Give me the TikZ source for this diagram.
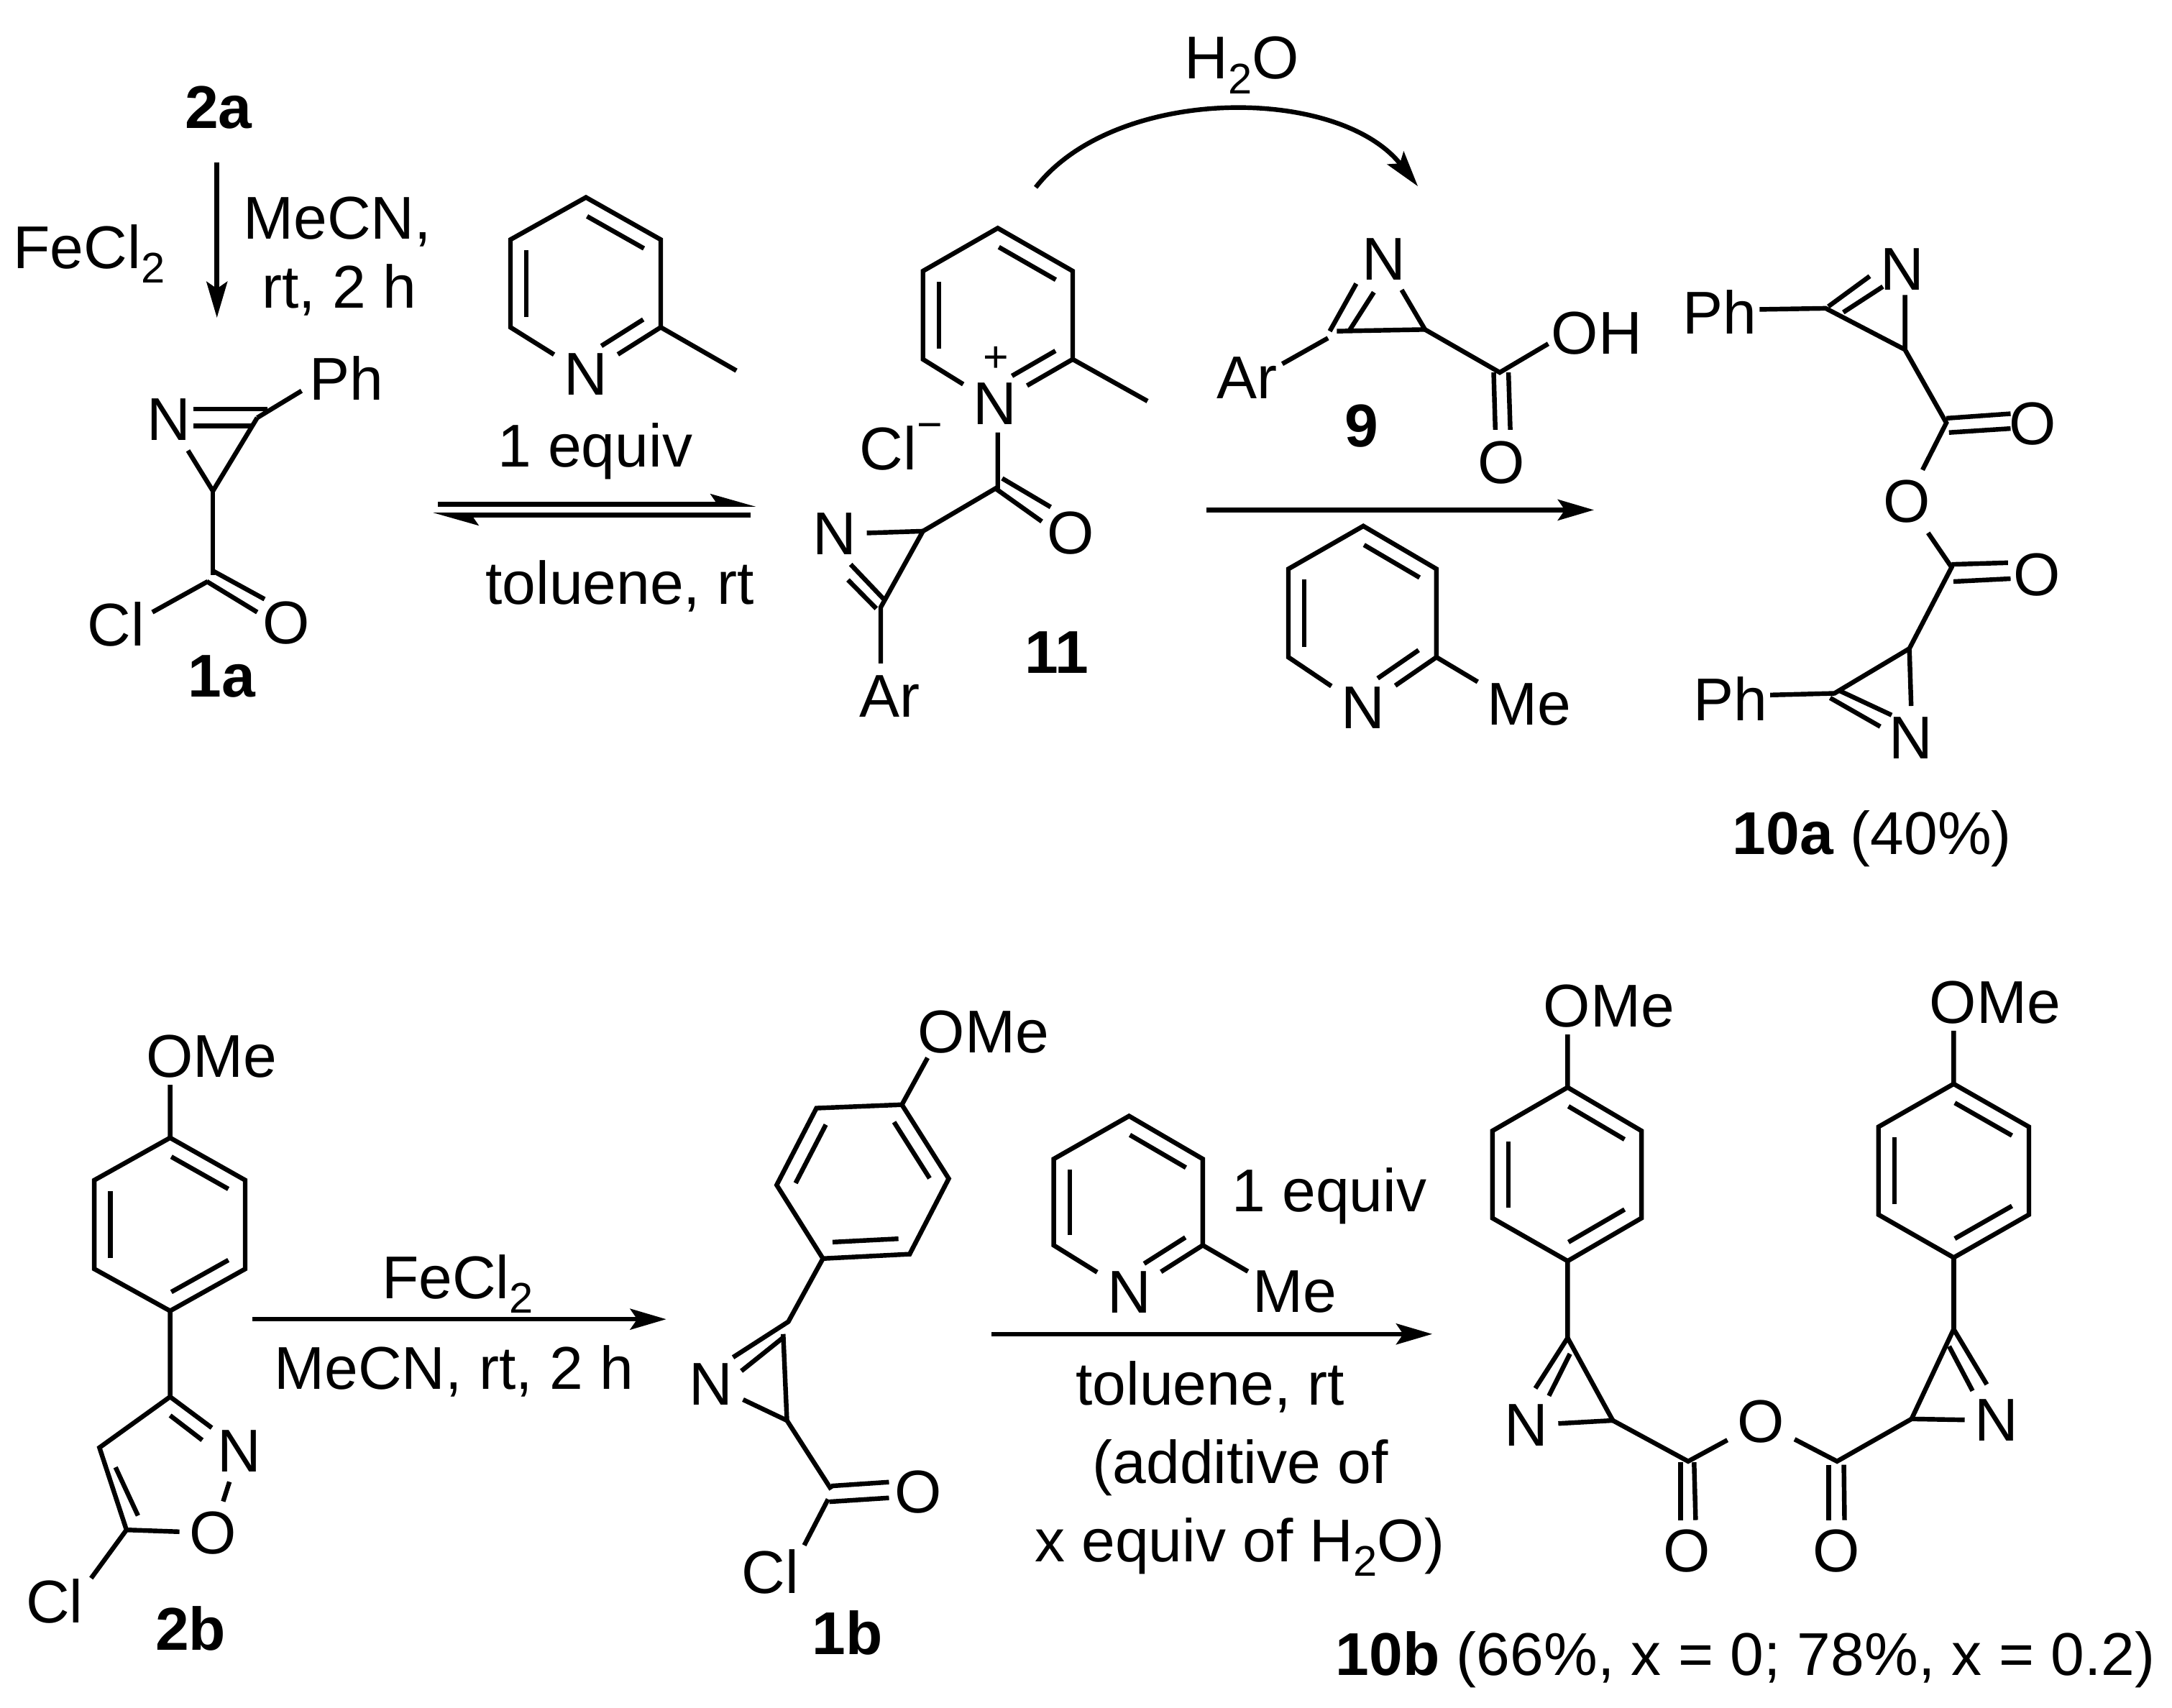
\documentclass[tikz,border=0pt]{standalone}
\usepackage{fontspec}
\setmainfont{Liberation Sans}
\usetikzlibrary{arrows.meta,calc}
\newcommand{\lowidx}[1]{\raisebox{-.24em}{\fontsize{8.8}{10}\selectfont #1}}
\newcommand{\innerbond}[3][.88]{\draw ($(#2)!.12!(#3)!.115cm!-90:(#3)$) -- ($(#2)!#1!(#3)!.115cm!-90:(#3)$);}
\begin{document}
\begin{tikzpicture}[
x=.01cm,y=-.01cm,
font=\fontsize{12.4}{15}\selectfont,
line width=.95pt,
atom/.style={inner sep=1.6pt},
txt/.style={anchor=base,inner sep=0pt},
txtl/.style={anchor=base west,inner sep=0pt},
cmpd/.style={inner sep=0pt,font=\fontsize{12.4}{15}\selectfont\bfseries},
rxn/.style={-{Stealth[length=.26cm,width=.15cm,inset=.05cm]}},
eqm/.style={-{Stealth[harpoon,length=.27cm,width=.15cm,inset=.05cm]}}]
    \useasboundingbox (0,0) rectangle (1568,1233.2);

    % 2a to 1a
    \node[cmpd] (l2a) at (157.7,77.5) {2a};
    \node[txtl] (fecla) at (8,193.9) {FeCl\lowidx{2}};
    \node[txt] (mecna) at (243.5,172.7) {MeCN,};
    \node[txt] (rta) at (244.7,222.4) {rt, 2 h};
    \draw (156.6,117.1) coordinate (s1) (156.6,229.4) coordinate (e1);
    \draw[rxn] (s1) -- (e1);

    \node[atom] (aN) at (122,303) {N};
    \node[atom] (aPh) at (250,272.8) {Ph};
    \node[atom] (aCl) at (83.7,450.7) {Cl};
    \node[atom] (aO) at (206.8,450) {O};
    \node[cmpd] (l1a) at (160,488.5) {1a};
    \draw
    (185.7,301.6) coordinate (a2) (217.7,282.2) coordinate (aP)
    (139.5,295.4) coordinate (ad1) (193,295.4) coordinate (ad2)
    (139.5,307.5) coordinate (ad3) (182,307.5) coordinate (ad4)
    (153.7,354.5) coordinate (a3) (153.7,415.3) coordinate (aC)
    (150,419.8) coordinate (aC1) (110,442) coordinate (aCe)
    (153,411.8) coordinate (ao1) (191,432.6) coordinate (ao2)
    (149.3,419.8) coordinate (ao3) (185.7,442) coordinate (ao4);
    \draw (a2) -- (aP);
    \draw (ad1) -- (ad2);
    \draw (ad3) -- (ad4);
    \draw (a3) -- (a2);
    \draw (a3) -- (aN);
    \draw (a3) -- (aC);
    \draw (aC1) -- (aCe);
    \draw (ao1) -- (ao2);
    \draw (ao3) -- (ao4);

    % picoline, top left
    \node[atom] (pN) at (423,270.4) {N};
    \draw
    (423,142.5) coordinate (p1) (477,173) coordinate (p2)
    (477,236.3) coordinate (p3) (368.5,236.3) coordinate (p5)
    (368.5,173) coordinate (p6) (531.6,267.6) coordinate (pm);
    \draw (pN) -- (p3) -- (p2) -- (p1) -- (p6) -- (p5) -- (pN);
    \draw (p3) -- (pm);
    \innerbond{p1}{p2}
    \innerbond{p5}{p6}
    \innerbond[.68]{p3}{pN}
    \node[txt] (eqa) at (429.6,337) {1 equiv};
    \node[txt] (tola) at (447.5,436) {toluene, rt};
    \draw
    (316,364.2) coordinate (q1) (546,364.2) coordinate (q2)
    (541.8,371.8) coordinate (q3) (312.4,371.8) coordinate (q4);
    \draw[eqm] (q1) -- (q2);
    \draw[eqm] (q3) -- (q4);

    % 11
    \node[atom] (bN) at (718.4,291.7) {N};
    \node[inner sep=0pt,font=\fontsize{9}{10}\selectfont] (bplus) at (719,259.4) {+};
    \node[txtl] (bCl) at (619,339.2) {Cl\raisebox{.5em}{\fontsize{9}{10}\selectfont −}};
    \node[atom] (bO) at (773.1,384.7) {O};
    \node[atom] (bN2) at (602.7,385.6) {N};
    \node[atom] (bAr) at (642.1,502.6) {Ar};
    \node[cmpd] (l11) at (763,471) {11};
    \draw
    (720.3,164.7) coordinate (b1) (774.4,195.7) coordinate (b2)
    (774.4,259.4) coordinate (b3) (666.3,259.4) coordinate (b5)
    (666.3,195.7) coordinate (b6) (828.4,289.6) coordinate (bm)
    (720.3,312.3) coordinate (bn) (720.3,351.7) coordinate (bC)
    (723.5,345.4) coordinate (bo1) (758.5,366.1) coordinate (bo2)
    (718.4,352.5) coordinate (bo3) (752.1,376.5) coordinate (bo4)
    (666.3,383.5) coordinate (b7) (635.8,438.5) coordinate (b8)
    (635.8,479) coordinate (be)
    (614.1,407.5) coordinate (bd1) (637.7,432.3) coordinate (bd2)
    (612.2,418.7) coordinate (bd3) (632.6,439.4) coordinate (bd4);
    \draw (bN) -- (b3) -- (b2) -- (b1) -- (b6) -- (b5) -- (bN);
    \draw (b3) -- (bm);
    \innerbond{b1}{b2}
    \innerbond{b5}{b6}
    \innerbond[.68]{b3}{bN}
    \draw (bn) -- (bC) -- (b7) -- (b8) -- (be);
    \draw (b7) -- (bN2);
    \draw (bo1) -- (bo2);
    \draw (bo3) -- (bo4);
    \draw (bd1) -- (bd2);
    \draw (bd3) -- (bd4);

    % water arc
    \node[txt] (wat) at (896.4,57) {H\lowidx{2}O};
    \draw (747.7,135.3) coordinate (w1) (1023.6,134.5) coordinate (w2);
    \draw[rxn] (w1) .. controls (805,61.4) and (966,61.4) .. (w2);

    % 9
    \node[atom] (cN) at (998.8,187) {N};
    \node[atom] (cAr) at (900.2,273) {Ar};
    \node[atom] (cOH) at (1152.7,240.8) {OH};
    \node[atom] (cO) at (1084,333.9) {O};
    \node[cmpd] (l9) at (983,307.5) {9};
    \draw
    (965.1,239.1) coordinate (c1) (1028.7,237.9) coordinate (c2)
    (1082.7,268.9) coordinate (c3)
    (979.1,204.8) coordinate (cd1) (960,239.1) coordinate (cd2)
    (991.8,211) coordinate (cd3) (974.6,237.9) coordinate (cd4)
    (958.7,244.1) coordinate (ca1) (925.7,262.7) coordinate (ca2)
    (1117.7,248.2) coordinate (ch)
    (1078.3,268.9) coordinate (co1) (1079.5,310.3) coordinate (co2)
    (1089,268.9) coordinate (co3) (1090.3,310.3) coordinate (co4);
    \draw (c1) -- (c2) -- (cN);
    \draw (c2) -- (c3) -- (ch);
    \draw (cd1) -- (cd2);
    \draw (cd3) -- (cd4);
    \draw (ca1) -- (ca2);
    \draw (co1) -- (co2);
    \draw (co3) -- (co4);

    % 11 to 10a, with Me-pyridine
    \draw (871,368.2) coordinate (s2) (1150.7,368.2) coordinate (e2);
    \draw[rxn] (s2) -- (e2);
    \node[atom] (dN) at (984.2,510.9) {N};
    \node[atom] (dMe) at (1103.7,508.5) {Me};
    \draw
    (984.2,379.8) coordinate (d1) (1037,410.8) coordinate (d2)
    (1037,474.5) coordinate (d3) (930.1,474.5) coordinate (d5)
    (930.1,410.8) coordinate (d6) (1066.8,492.3) coordinate (dm);
    \draw (dN) -- (d3) -- (d2) -- (d1) -- (d6) -- (d5) -- (dN);
    \draw (d3) -- (dm);
    \innerbond{d1}{d2}
    \innerbond{d5}{d6}
    \innerbond[.68]{d3}{dN}

    % 10a
    \node[atom] (eN) at (1373.3,194.4) {N};
    \node[atom] (ePh) at (1241.6,225.5) {Ph};
    \node[atom] (eO) at (1467.4,306.1) {O};
    \node[atom] (eOb) at (1376.4,362) {O};
    \node[atom] (eO2) at (1470.5,414.9) {O};
    \node[atom] (eN2) at (1379.7,532.8) {N};
    \node[atom] (ePh2) at (1249.3,504.7) {Ph};
    \node[txt] (l10a) at (1351.5,617) {\textbf{10a} (40\%)};
    \draw
    (1318,222.6) coordinate (e1) (1270.3,223.4) coordinate (ep)
    (1319.9,221.3) coordinate (ed1) (1349.8,199.4) coordinate (ed2)
    (1330.7,225.5) coordinate (ed3) (1359.3,206.9) coordinate (ed4)
    (1375.2,252.4) coordinate (e2) (1375.2,213) coordinate (en)
    (1405.1,305.3) coordinate (e3)
    (1405.1,302) coordinate (eo1) (1451.5,298.7) coordinate (eo2)
    (1407,312.3) coordinate (eo3) (1451.5,309.4) coordinate (eo4)
    (1408.9,409.6) coordinate (e4)
    (1408.9,407.5) coordinate (eo5) (1449.6,406.3) coordinate (eo6)
    (1410.2,419.9) coordinate (eo7) (1451.5,417.8) coordinate (eo8)
    (1378.4,468.3) coordinate (e5) (1379.7,509.7) coordinate (en2)
    (1324.3,500.6) coordinate (e6) (1277.9,501.8) coordinate (ep2)
    (1327.5,498.5) coordinate (ed5) (1365.6,516.3) coordinate (ed6)
    (1321.2,503.9) coordinate (ed7) (1357.4,524.6) coordinate (ed8);
    \draw (ep) -- (e1) -- (e2) -- (en);
    \draw (ed1) -- (ed2);
    \draw (ed3) -- (ed4);
    \draw (e2) -- (e3) -- (eOb) -- (e4) -- (e5) -- (en2);
    \draw (eo1) -- (eo2);
    \draw (eo3) -- (eo4);
    \draw (eo5) -- (eo6);
    \draw (eo7) -- (eo8);
    \draw (e5) -- (e6) -- (ep2);
    \draw (ed5) -- (ed6);
    \draw (ed7) -- (ed8);

    % 2b
    \node[atom] (fOMe) at (152.9,763) {OMe};
    \node[atom] (fN) at (172.8,1047.6) {N};
    \node[atom] (fO) at (153.8,1106.8) {O};
    \node[atom] (fCl) at (39.4,1156.3) {Cl};
    \node[cmpd] (l2b) at (137.6,1176) {2b};
    \draw
    (122.8,783.3) coordinate (fm)
    (122.8,821.5) coordinate (f1) (177,852.1) coordinate (f2)
    (177,916.2) coordinate (f3) (122.8,946.5) coordinate (f4)
    (68.1,916.2) coordinate (f5) (68.1,852.1) coordinate (f6)
    (122.8,1008.5) coordinate (f7) (71.8,1045.2) coordinate (f8)
    (91.3,1104.6) coordinate (f9)
    (152.9,1030.9) coordinate (fn1)
    (122.8,1022) coordinate (fn2) (146,1039.8) coordinate (fn3)
    (83.4,1059.4) coordinate (fc1) (99.6,1094.3) coordinate (fc2)
    (65.8,1139.5) coordinate (fe);
    \draw (fm) -- (f1) -- (f2) -- (f3) -- (f4) -- (f5) -- (f6) -- (f1);
    \innerbond{f1}{f2}
    \innerbond{f3}{f4}
    \innerbond{f5}{f6}
    \draw (f4) -- (f7) -- (f8) -- (f9) -- (fO) -- (fN);
    \draw (f7) -- (fn1);
    \draw (fn2) -- (fn3);
    \draw (fc1) -- (fc2);
    \draw (f9) -- (fe);

    % 2b to 1b
    \draw (182.1,952.5) coordinate (s3) (481,952.5) coordinate (e3a);
    \draw[rxn] (s3) -- (e3a);
    \node[txtl] (feclb) at (274,937.5) {FeCl\lowidx{2}};
    \node[txt] (mecnb) at (327.6,1003.1) {MeCN, rt, 2 h};

    % 1b
    \node[atom] (gOMe) at (710,745.2) {OMe};
    \node[atom] (gN) at (513.4,999.6) {N};
    \node[atom] (gO) at (662.7,1077.2) {O};
    \node[atom] (gCl) at (556.1,1134.9) {Cl};
    \node[cmpd] (l1b) at (611.7,1178.7) {1b};
    \draw
    (669.6,763.8) coordinate (gm)
    (651.1,797.6) coordinate (g1) (684.9,851) coordinate (g2)
    (656.7,905.5) coordinate (g3) (594.1,908.7) coordinate (g4)
    (560.7,855.6) coordinate (g5) (589.4,800.1) coordinate (g6)
    (569.1,954.3) coordinate (g7) (529.2,980) coordinate (gd1)
    (566.3,965) coordinate (gd2) (535.2,989.9) coordinate (gd3)
    (565.4,963.2) coordinate (gr) (568.1,1025.6) coordinate (g8)
    (600.1,1075.4) coordinate (g9)
    (600.1,1072.9) coordinate (go1) (641.8,1070.1) coordinate (go2)
    (598.7,1084.3) coordinate (go3) (641.8,1081.5) coordinate (go4)
    (597.8,1082.5) coordinate (gc1) (580.6,1115.7) coordinate (gc2);
    \draw (gm) -- (g1) -- (g2) -- (g3) -- (g4) -- (g5) -- (g6) -- (g1);
    \innerbond{g1}{g2}
    \innerbond{g3}{g4}
    \innerbond{g5}{g6}
    \draw (g4) -- (g7) -- (gd1);
    \draw (gd2) -- (gd3);
    \draw (gr) -- (g8) -- (gN);
    \draw (g8) -- (g9);
    \draw (go1) -- (go2);
    \draw (go3) -- (go4);
    \draw (gc1) -- (gc2);

    % 1b to 10b
    \draw (716,963.2) coordinate (s4) (1034,963.2) coordinate (e4a);
    \draw[rxn] (s4) -- (e4a);
    \node[atom] (hN) at (815.1,932.9) {N};
    \node[atom] (hMe) at (934.6,932.9) {Me};
    \draw
    (815.1,805.8) coordinate (h1) (868.3,836.8) coordinate (h2)
    (868.3,899.1) coordinate (h3) (760.7,899.1) coordinate (h5)
    (760.7,836.8) coordinate (h6) (900.9,918) coordinate (hm);
    \draw (hN) -- (h3) -- (h2) -- (h1) -- (h6) -- (h5) -- (hN);
    \draw (h3) -- (hm);
    \innerbond{h1}{h2}
    \innerbond{h5}{h6}
    \innerbond[.68]{h3}{hN}
    \node[txt] (eqb) at (959.6,875) {1 equiv};
    \node[txt] (tolb) at (873.7,1014.5) {toluene, rt};
    \node[txt] (addb) at (895.5,1071) {(additive of};
    \node[txt] (xeq) at (894.9,1127.5) {x equiv of H\lowidx{2}O)};

    % 10b
    \node[atom] (iOMe) at (1161.6,726.3) {OMe};
    \node[atom] (iN) at (1101.9,1029.1) {N};
    \node[atom] (iO) at (1271.3,1026.6) {O};
    \node[atom] (iOl) at (1217.6,1120) {O};
    \node[atom] (iOr) at (1325.7,1120) {O};
    \node[atom] (iN2) at (1441.4,1025.6) {N};
    \node[atom] (iOMe2) at (1440.3,723.9) {OMe};
    \node[txt] (l10b) at (1260,1209.7) {\textbf{10b} (66\%, x = 0; 78\%, x = 0.2)};
    \draw
    (1131.7,747) coordinate (im)
    (1131.7,785.1) coordinate (i1) (1185,816.5) coordinate (i2)
    (1185,879.5) coordinate (i3) (1131.7,910.5) coordinate (i4)
    (1077.4,879.5) coordinate (i5) (1077.4,816.5) coordinate (i6)
    (1131.7,966) coordinate (i7)
    (1108.4,1002.4) coordinate (id2)
    (1133.4,977.5) coordinate (id3) (1118.2,1007.8) coordinate (id4)
    (1131.7,966) coordinate (ir) (1164.3,1025.6) coordinate (i8)
    (1218.7,1055.1) coordinate (i9) (1326.2,1055.1) coordinate (i10)
    (1380,1024.5) coordinate (i11) (1410.4,959.7) coordinate (i12)
    (1213.2,1055.8) coordinate (io1) (1213.2,1097.5) coordinate (io2)
    (1223,1055.8) coordinate (io3) (1224.1,1097.5) coordinate (io4)
    (1320.2,1057.6) coordinate (io5) (1320.2,1097.5) coordinate (io6)
    (1331.1,1057.6) coordinate (io7) (1331.6,1097.5) coordinate (io8)
    (1434.3,999.6) coordinate (id5)
    (1407.1,972.1) coordinate (id6) (1424,1004.2) coordinate (id7)
    (1410.4,744.2) coordinate (jm)
    (1410.4,782.6) coordinate (j1) (1464.7,813.6) coordinate (j2)
    (1464.7,877) coordinate (j3) (1410.4,908) coordinate (j4)
    (1356.1,877) coordinate (j5) (1356.1,813.6) coordinate (j6);
    \draw (im) -- (i1) -- (i2) -- (i3) -- (i4) -- (i5) -- (i6) -- (i1);
    \innerbond{i1}{i2}
    \innerbond{i3}{i4}
    \innerbond{i5}{i6}
    \draw (i4) -- (i7) -- (id2);
    \draw (id3) -- (id4);
    \draw (ir) -- (i8) -- (iN);
    \draw (i8) -- (i9) -- (iO) -- (i10) -- (i11) -- (iN2);
    \draw (io1) -- (io2);
    \draw (io3) -- (io4);
    \draw (io5) -- (io6);
    \draw (io7) -- (io8);
    \draw (i11) -- (i12) -- (id5);
    \draw (id6) -- (id7);
    \draw (jm) -- (j1) -- (j2) -- (j3) -- (j4) -- (j5) -- (j6) -- (j1);
    \innerbond{j1}{j2}
    \innerbond{j3}{j4}
    \innerbond{j5}{j6}
    \draw (j4) -- (i12);
\end{tikzpicture}
\end{document}
